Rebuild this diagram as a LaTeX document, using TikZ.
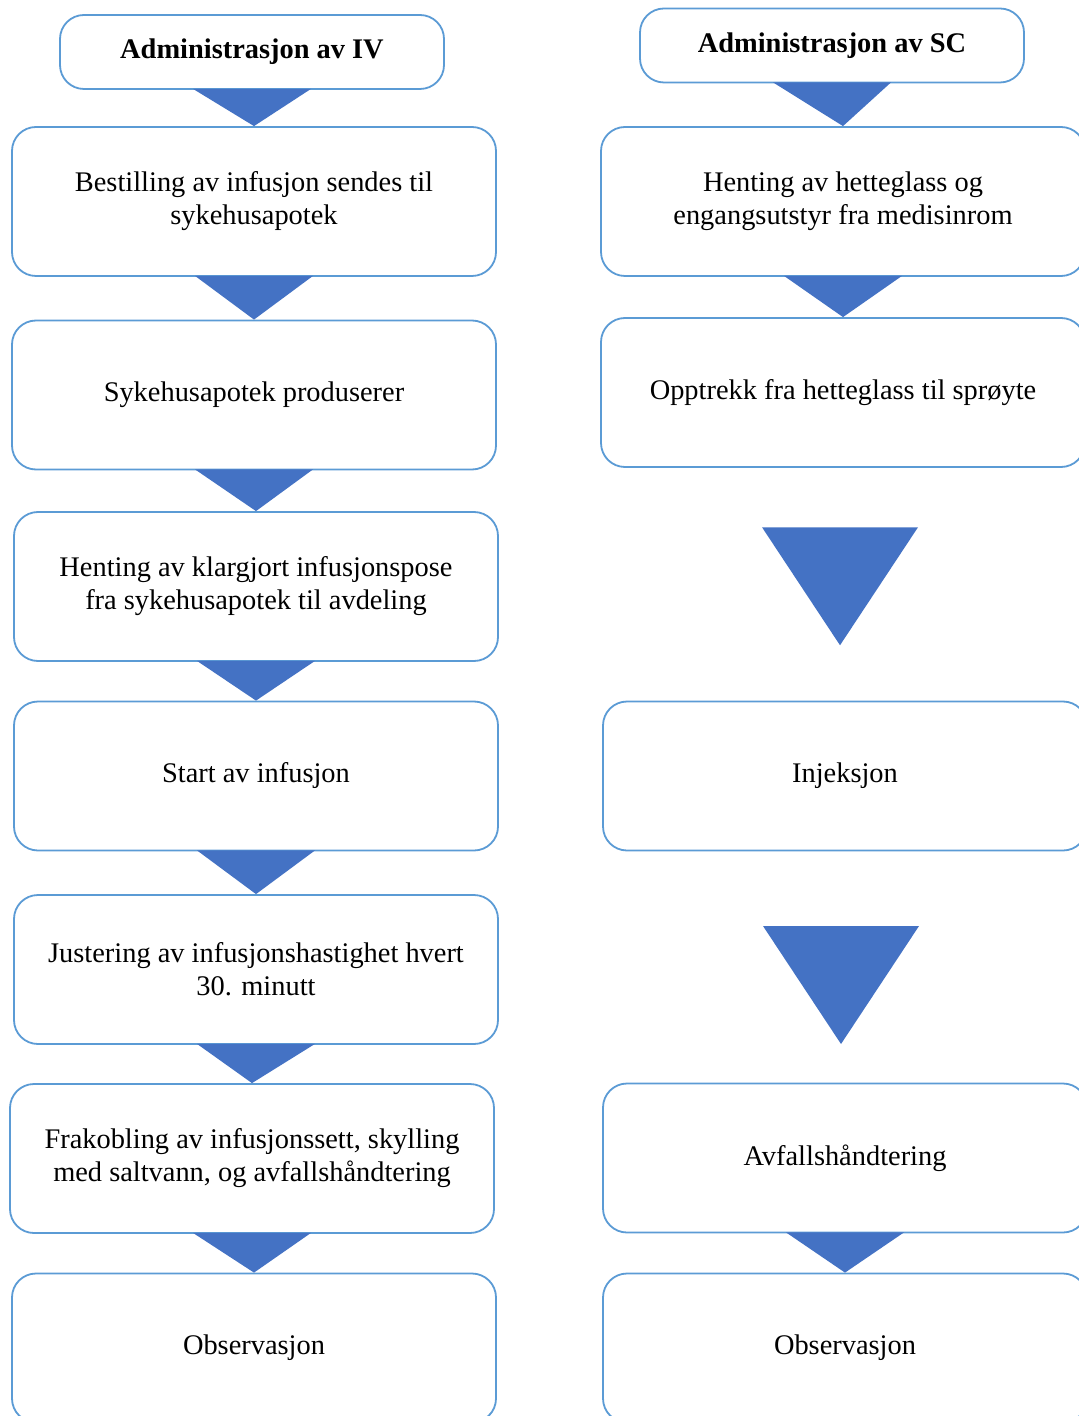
\documentclass[tikz,border=0pt]{standalone}
\usepackage{fontspec}
\setmainfont{Liberation Serif}
\usetikzlibrary{calc}
\definecolor{boxline}{RGB}{91,155,213}
\definecolor{trifill}{RGB}{68,114,196}
\tikzset{
  stepbox/.style={
    draw=boxline, line width=0.9pt, rounded corners=12pt,
    minimum width=242pt, minimum height=74.5pt,
    align=center, inner sep=2pt,
    font=\fontsize{14.2}{16.5}\selectfont
  },
  headbox/.style={
    stepbox, minimum width=192pt, minimum height=37pt,
    font=\bfseries\fontsize{14.2}{16.5}\selectfont
  },
  flowtri/.style={fill=trifill, draw=none}
}

\begin{document}
\begin{tikzpicture}[x=0.5pt,y=-0.5pt]
    \clip (0,0) rectangle (1079,1416);
    \fill[white] (0,0) rectangle (1079,1416);
    % left column
    \node[headbox] (iv) at (252,52) {Administrasjon av IV};
    \node[stepbox] (l1) at (254,201.5) {Bestilling av infusjon sendes til\\sykehusapotek};
    \node[stepbox] (l2) at (254,395) {Sykehusapotek produserer};
    \node[stepbox] (l3) at (256,586.5) {Henting av klargjort infusjonspose\\fra sykehusapotek til avdeling};
    \node[stepbox] (l4) at (256,776) {Start av infusjon};
    \node[stepbox] (l5) at (256,969.5) {Justering av infusjonshastighet hvert\\30. minutt};
    \node[stepbox] (l6) at (252,1158.5) {Frakobling av infusjonssett, skylling\\med saltvann, og avfallshåndtering};
    \node[stepbox] (l7) at (254,1348) {Observasjon};
    % right column
    \node[headbox] (sc) at (832,45.5) {Administrasjon av SC};
    \node[stepbox] (r1) at (843,201.5) {Henting av hetteglass og\\engangsutstyr fra medisinrom};
    \node[stepbox] (r2) at (843,392.5) {Opptrekk fra hetteglass til sprøyte};
    \node[stepbox] (r3) at (845,776) {Injeksjon};
    \node[stepbox] (r4) at (845,1158) {Avfallshåndtering};
    \node[stepbox] (r5) at (845,1348) {Observasjon};
    % small arrows between touching boxes
    \foreach \a/\b in {iv/l1,l1/l2,l2/l3,l3/l4,l4/l5,l5/l6,l6/l7,sc/r1,r1/r2,r4/r5}
      \fill[flowtri] ($(\a.south)+(-59,-1)$) -- ($(\a.south)+(59,-1)$) -- (\b.north) -- cycle;
    % big arrows in the open gaps
    \foreach \a/\b/\dy in {r2/r3/0,r3/r4/16} {
      \coordinate (m\a) at ($(\a.south)!0.5!(\b.north)+(-4,\dy)$);
      \fill[flowtri] (m\a) +(-78,-57) -- +(78,-57) -- +(0,61) -- cycle;
    }
\end{tikzpicture}
\end{document}
